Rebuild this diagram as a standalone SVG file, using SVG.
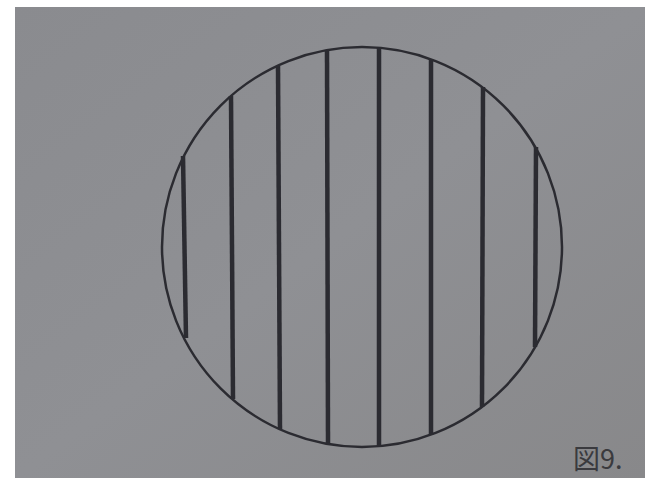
<svg xmlns="http://www.w3.org/2000/svg" width="645" height="478" viewBox="0 0 645 478">
<defs>
<linearGradient id="bg" x1="0" y1="0" x2="1" y2="1">
<stop offset="0" stop-color="#8a8b8f"/>
<stop offset="0.5" stop-color="#8f9094"/>
<stop offset="1" stop-color="#88888a"/>
</linearGradient>
<style>
.ln{stroke:#2b2b31;stroke-width:4.5;stroke-linecap:butt;fill:none}
.cir{stroke:#2b2b31;stroke-width:2.5;fill:none}
.lbl{font-family:"Noto Sans CJK JP","Liberation Sans",sans-serif;font-size:27px;fill:#3a3a3e}
</style>
</defs>
<rect width="645" height="478" fill="#ffffff"/>
<rect x="15" y="7" width="630" height="471" fill="url(#bg)"/>
<g id="circle">
<circle class="cir" cx="362" cy="247" r="200"/>
</g>
<g id="lines">
<line class="ln" x1="183" y1="156" x2="186" y2="338"/>
<line class="ln" x1="231" y1="96" x2="233" y2="399"/>
<line class="ln" x1="278" y1="66" x2="280" y2="429"/>
<line class="ln" x1="327" y1="50" x2="328" y2="444"/>
<line class="ln" x1="379" y1="48" x2="379" y2="446"/>
<line class="ln" x1="431" y1="59" x2="431" y2="435"/>
<line class="ln" x1="483" y1="87" x2="482" y2="407"/>
<line class="ln" x1="536" y1="147" x2="535" y2="347"/>
</g>
<g id="label">
<text class="lbl" x="573" y="469">図9.</text>
</g>
</svg>
